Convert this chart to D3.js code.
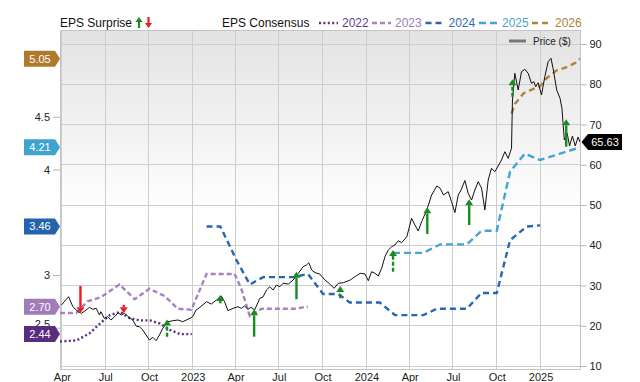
<!DOCTYPE html>
<html><head><meta charset="utf-8">
<script src="https://cdn.jsdelivr.net/npm/d3@7"></script>
<style>body{margin:0;background:#fff;} svg{display:block;font-family:"Liberation Sans",Arial,sans-serif;}</style>
</head><body><svg id="c" width="640" height="382"></svg>
<script>
// ---------------- DATA ----------------
const priceDates = ["2022-03-31","2022-04-15","2022-04-24","2022-05-05","2022-05-12","2022-05-22","2022-05-29","2022-06-05","2022-06-12","2022-06-19","2022-06-22","2022-06-29","2022-07-06","2022-07-13","2022-07-21","2022-07-28","2022-08-04","2022-08-11","2022-08-18","2022-08-28","2022-09-04","2022-09-11","2022-09-18","2022-09-25","2022-10-02","2022-10-09","2022-10-16","2022-10-23","2022-10-30","2022-11-10","2022-11-20","2022-12-01","2022-12-11","2022-12-22","2023-01-01","2023-01-08","2023-01-16","2023-01-30","2023-02-09","2023-02-20","2023-03-02","2023-03-09","2023-03-16","2023-03-27","2023-04-06","2023-04-13","2023-04-20","2023-04-27","2023-05-04","2023-05-11","2023-05-22","2023-05-29","2023-06-05","2023-06-12","2023-06-19","2023-06-26","2023-07-03","2023-07-10","2023-07-21","2023-07-31","2023-08-11","2023-08-21","2023-08-28","2023-09-02","2023-09-08","2023-09-15","2023-09-25","2023-10-06","2023-10-16","2023-10-25","2023-11-03","2023-11-14","2023-11-28","2023-12-08","2023-12-19","2023-12-29","2024-01-05","2024-01-12","2024-01-19","2024-01-26","2024-02-02","2024-02-09","2024-02-16","2024-02-23","2024-03-01","2024-03-08","2024-03-15","2024-03-26","2024-04-05","2024-04-12","2024-04-19","2024-04-26","2024-05-07","2024-05-17","2024-05-28","2024-06-04","2024-06-11","2024-06-21","2024-06-28","2024-07-05","2024-07-12","2024-07-18","2024-07-26","2024-08-02","2024-08-09","2024-08-16","2024-08-23","2024-08-30","2024-09-06","2024-09-13","2024-09-20","2024-09-27","2024-10-04","2024-10-11","2024-10-18","2024-10-25","2024-11-01","2024-11-03","2024-11-08","2024-11-15","2024-11-22","2024-11-29","2024-12-06","2024-12-13","2024-12-18","2024-12-22","2024-12-27","2025-01-03","2025-01-10","2025-01-17","2025-01-23","2025-01-28","2025-02-04","2025-02-11","2025-02-15","2025-02-20","2025-02-26","2025-03-03","2025-03-09","2025-03-15","2025-03-21","2025-03-25"];
const priceValues = [25.16,27.22,24.73,23.49,23.09,23.91,24.58,24.09,24.34,22.67,23.49,21.85,22.25,21.43,22.25,23.24,22.67,23.09,22.25,21.43,19.94,19.76,18.94,17.70,16.46,17.13,16.29,17.70,19.37,21.01,21.25,21.43,21.01,21.60,22.25,23.91,24.58,25.97,25.40,26.40,27.39,25.97,23.74,24.34,24.73,24.34,24.91,24.09,24.58,23.91,26.82,27.22,28.88,29.70,28.88,30.12,29.70,30.55,30.37,31.37,33.03,34.67,35.09,35.66,33.85,33.18,32.86,31.37,30.37,29.30,30.55,30.70,31.37,32.19,33.03,32.86,31.19,33.43,33.03,32.36,34.27,37.16,38.82,39.64,40.06,41.13,40.63,42.12,46.70,45.03,43.54,45.85,48.76,52.48,54.72,54.15,52.48,53.30,50.82,48.09,52.48,53.73,56.09,52.91,51.24,53.73,55.79,54.22,48.76,56.21,59.12,58.27,59.69,61.18,63.24,61.60,64.09,76.09,82.72,78.57,83.12,83.71,82.72,80.24,80.63,79.39,80.39,77.33,81.88,85.60,86.45,83.54,78.57,76.51,74.02,66.15,67.81,64.66,67.14,64.66,66.89,65.63];

const eps2022Dates = ["2022-03-28","2022-05-02","2022-05-30","2022-06-20","2022-07-11","2022-08-01","2022-08-22","2022-09-12","2022-10-03","2022-10-24","2022-11-14","2022-12-05","2022-12-30"];
const eps2022Values = [2.37,2.38,2.45,2.54,2.62,2.65,2.59,2.57,2.57,2.54,2.48,2.44,2.44];
const eps2023Dates = ["2022-03-28","2022-05-01","2022-05-25","2022-06-22","2022-07-31","2022-09-01","2022-10-02","2022-11-03","2022-12-01","2022-12-29","2023-01-30","2023-03-30","2023-04-13","2023-05-01","2023-05-26","2023-08-03","2023-08-31"];
const eps2023Values = [2.64,2.64,2.75,2.79,2.91,2.77,2.87,2.80,2.68,2.67,3.01,3.01,2.87,2.61,2.68,2.68,2.70];
const eps2024Dates = ["2023-01-30","2023-02-28","2023-04-03","2023-05-01","2023-05-29","2023-08-02","2023-08-31","2023-10-02","2023-11-03","2023-11-27","2024-01-29","2024-03-01","2024-04-30","2024-05-28","2024-07-30","2024-08-30","2024-10-01","2024-10-29","2024-12-03","2024-12-31"];
const eps2024Values = [3.46,3.46,3.14,2.91,2.98,2.98,3.01,2.82,2.82,2.74,2.74,2.62,2.62,2.68,2.68,2.83,2.83,3.33,3.46,3.47];
const eps2025Dates = ["2024-02-26","2024-04-30","2024-06-04","2024-07-30","2024-08-30","2024-10-01","2024-10-29","2024-11-29","2024-12-31","2025-02-11","2025-03-25"];
const eps2025Values = [3.21,3.21,3.29,3.29,3.42,3.42,3.98,4.15,4.09,4.15,4.21];
const eps2026Dates = ["2024-11-01","2024-11-08","2024-11-26","2024-12-10","2024-12-31","2025-01-15","2025-02-04","2025-02-25","2025-03-15","2025-03-25"];
const eps2026Values = [4.53,4.62,4.72,4.75,4.79,4.87,4.94,4.97,5.01,5.05];

const seriesNames = ["2022","2023","2024","2025","2026"];
const badgeValues = [2.44, 2.70, 3.46, 4.21, 5.05];

// EPS surprise arrows (anchored on the price scale)
const surpriseDates = ["2022-05-10","2022-08-09","2022-11-08","2023-02-28","2023-05-10","2023-08-07","2023-11-07","2024-02-26","2024-05-08","2024-08-04","2024-11-03","2025-02-24"];
const surpriseFrom = [29.88,25.16,17.28,25.58,17.28,26.57,26.82,33.43,42.80,45.03,76.91,64.48];
const surpriseTo   = [23.09,23.09,21.55,27.64,24.09,33.43,29.88,38.82,49.43,51.42,81.23,71.29];
const surpriseProjected = [false,false,true,false,false,false,true,true,false,false,true,false];

const priceTicks = [10,20,30,40,50,60,70,80,90];
const epsTicks = [2.5,3,4,4.5];
const xTickDates = ["2022-04-01","2022-07-01","2022-10-01","2023-01-01","2023-04-01","2023-07-01","2023-10-01","2024-01-01","2024-04-01","2024-07-01","2024-10-01","2025-01-01"];
const xTickLabels = ["Apr","Jul","Oct","2023","Apr","Jul","Oct","2024","Apr","Jul","Oct","2025"];

// ---------------- CHART ----------------
const parse = d3.timeParse("%Y-%m-%d");
const svg = d3.select("#c");
const L = 60, R = 580.5, T = 30, B = 369;

const x = d3.scaleTime().domain([parse("2022-03-28"), parse("2025-03-26")]).range([L, R]);
const yP = d3.scaleLinear().domain([10, 90]).range([366, 44]);
const yE = d3.scaleLinear().domain([3, 4.5]).range([275, 116.75]);

const colors = {"2022":"#5b2d83","2023":"#a781c1","2024":"#2866b2","2025":"#44a5d5","2026":"#b3813a"};
const textColors = {"2022":"#6a3d92","2023":"#a07ab8","2024":"#2f6db6","2025":"#4aa3cf","2026":"#b07f36"};
const dashes = {"2022":"2,2.4","2023":"5,3","2024":"6,4","2025":"7,4","2026":"6,4"};

const defs = svg.append("defs");
const grad = defs.append("linearGradient").attr("id","bg").attr("x1",0).attr("y1",0).attr("x2",0).attr("y2",1);
grad.append("stop").attr("offset","0%").attr("stop-color","#e3e3e3");
grad.append("stop").attr("offset","55%").attr("stop-color","#ffffff");
grad.append("stop").attr("offset","100%").attr("stop-color","#ffffff");
defs.append("clipPath").attr("id","clip").append("rect").attr("x",L).attr("y",T).attr("width",R-L).attr("height",B-T);

svg.append("rect").attr("x",L).attr("y",T).attr("width",R-L).attr("height",B-T).attr("fill","url(#bg)");

// grid
const grid = svg.append("g").attr("stroke","#cdcdcd").attr("stroke-width",1).attr("shape-rendering","crispEdges");
priceTicks.forEach(t => grid.append("line").attr("x1",L).attr("x2",R).attr("y1",yP(t)).attr("y2",yP(t)));
xTickDates.forEach(d => grid.append("line").attr("x1",x(parse(d))).attr("x2",x(parse(d))).attr("y1",T).attr("y2",B));
// border
svg.append("rect").attr("x",L).attr("y",T).attr("width",R-L).attr("height",B-T)
  .attr("fill","none").attr("stroke","#c4c4c4").attr("stroke-width",1).attr("shape-rendering","crispEdges");

// axes
const axR = svg.append("g").attr("transform",`translate(${R},0)`)
  .call(d3.axisRight(yP).tickValues(priceTicks).tickSize(6).tickPadding(3).tickFormat(d3.format("d")));
const axL = svg.append("g").attr("transform",`translate(${L},0)`)
  .call(d3.axisLeft(yE).tickValues(epsTicks).tickSize(7).tickPadding(3).tickFormat(d => String(d)));
const axB = svg.append("g").attr("transform",`translate(0,${B})`)
  .call(d3.axisBottom(x).tickValues(xTickDates.map(parse)).tickSize(0).tickPadding(4).tickFormat((d,i) => xTickLabels[i]));
[axR, axL, axB].forEach(a => {
  a.select(".domain").remove();
  a.selectAll(".tick line").attr("stroke","#b5b5b5");
  a.selectAll(".tick text").attr("fill","#222").style("font-size","11px").style("font-family","'Liberation Sans',Arial,sans-serif");
});
// the 2.5 label sits partly behind the 2.44 badge in the reference; nudge it up a little
axL.selectAll(".tick").filter(d => d === 2.5).select("text").attr("dy","-0.05em");

// EPS consensus lines
const plot = svg.append("g").attr("clip-path","url(#clip)");
const epsSeries = [
  ["2022", eps2022Dates, eps2022Values],
  ["2023", eps2023Dates, eps2023Values],
  ["2024", eps2024Dates, eps2024Values],
  ["2025", eps2025Dates, eps2025Values],
  ["2026", eps2026Dates, eps2026Values]
];
const epsLine = d3.line().x(d => x(d[0])).y(d => yE(d[1]));
epsSeries.forEach(([name, ds, vs]) => {
  plot.append("path").datum(ds.map((d,i) => [parse(d), vs[i]]))
    .attr("d", epsLine).attr("fill","none").attr("stroke",colors[name])
    .attr("stroke-width",2.4).attr("stroke-dasharray",dashes[name]);
});

// price line
const pLine = d3.line().x(d => x(d[0])).y(d => yP(d[1]));
plot.append("path").datum(priceDates.map((d,i) => [parse(d), priceValues[i]]))
  .attr("d", pLine).attr("fill","none").attr("stroke","#111").attr("stroke-width",1);

// surprise arrows
function arrow(g, cx, y1, y2, color, dashed, lw, hw, hh) {
  const up = y2 < y1;
  const yBase = up ? y2 + hh : y2 - hh;
  g.append("line").attr("x1",cx).attr("x2",cx).attr("y1",y1).attr("y2",yBase)
    .attr("stroke",color).attr("stroke-width",lw).attr("stroke-dasharray",dashed ? "4,2" : null);
  g.append("path").attr("d",`M${cx-hw/2},${yBase}L${cx+hw/2},${yBase}L${cx},${y2}Z`).attr("fill",color);
}
const arrG = svg.append("g");
surpriseDates.forEach((d,i) => {
  const up = surpriseTo[i] > surpriseFrom[i];
  arrow(arrG, x(parse(d)), yP(surpriseFrom[i]), yP(surpriseTo[i]), up ? "#1a8c1f" : "#ec1c24", surpriseProjected[i], 2.4, 8, 6);
});

// left badges
const badgeSeries = ["2022","2023","2024","2025","2026"];
const badgeColors = {"2022":"#5a2c80","2023":"#a27cb9","2024":"#2563ad","2025":"#3fa3cf","2026":"#b07a2c"};
badgeValues.forEach((v,i) => {
  const cy = yE(v), name = badgeSeries[i];
  svg.append("path").attr("d",`M24,${cy-8}L55,${cy-8}L60,${cy}L55,${cy+8}L24,${cy+8}Z`).attr("fill",badgeColors[name]);
  svg.append("text").attr("x",40).attr("y",cy+4).attr("text-anchor","middle").attr("fill","#fff")
    .style("font-size","11px").text(v.toFixed(2));
});

// right price badge
const lastP = priceValues[priceValues.length-1];
const py = yP(lastP);
svg.append("path").attr("d",`M581.5,${py}L588,${py-8}L622,${py-8}L622,${py+8}L588,${py+8}Z`).attr("fill","#000");
svg.append("text").attr("x",605).attr("y",py+4).attr("text-anchor","middle").attr("fill","#fff")
  .style("font-size","11px").text(lastP.toFixed(2));

// price legend
svg.append("line").attr("x1",509).attr("x2",526).attr("y1",41).attr("y2",41).attr("stroke","#777").attr("stroke-width",3);
svg.append("text").attr("x",533).attr("y",45).attr("fill","#222").style("font-size","10px").text("Price ($)");

// header legend
const hdr = svg.append("g").style("font-size","12px");
hdr.append("text").attr("x",60).attr("y",27).attr("fill","#111").text("EPS Surprise");
arrow(hdr, 139, 28, 17, "#1a8c1f", false, 2.2, 7, 5);
arrow(hdr, 148.5, 17, 28, "#ec1c24", false, 2.2, 7, 5);
hdr.append("text").attr("x",222).attr("y",27).attr("fill","#111").text("EPS Consensus");
const legX = [319, 372, 425.5, 479, 532];
seriesNames.forEach((n,i) => {
  hdr.append("line").attr("x1",legX[i]).attr("x2",legX[i]+19).attr("y1",23).attr("y2",23)
    .attr("stroke",colors[n]).attr("stroke-width",2.4).attr("stroke-dasharray",dashes[n]);
  hdr.append("text").attr("x",legX[i]+23).attr("y",27).attr("fill",textColors[n]).text(n);
});
</script></body></html>
